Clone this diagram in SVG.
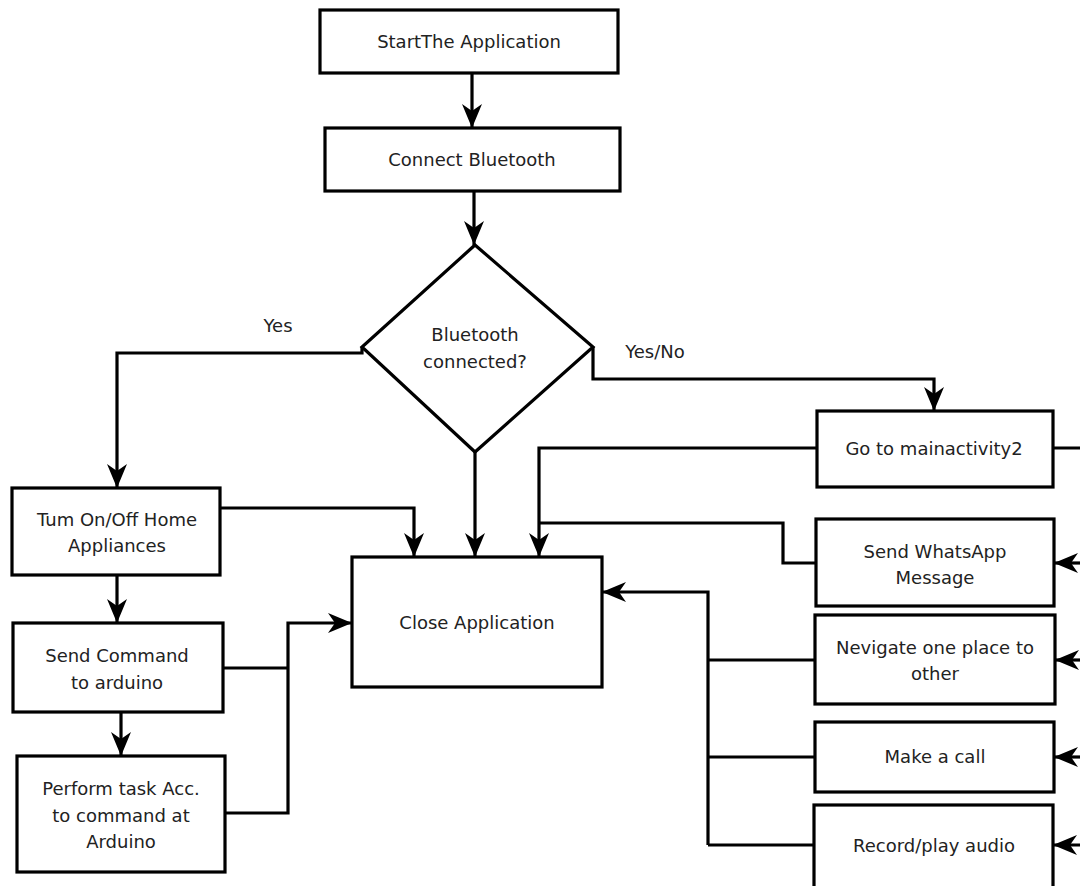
<svg xmlns="http://www.w3.org/2000/svg" width="1080" height="886" viewBox="0 0 1080 886">
<style>
.box{fill:#fff;stroke:#000;stroke-width:3.2}
.t{font-family:"DejaVu Sans",Verdana,sans-serif;font-size:18px;fill:#222;text-anchor:middle}
.c{fill:none;stroke:#000;stroke-width:3.2;stroke-linejoin:miter}
.a{marker-end:url(#ah)}
</style>
<defs>
<marker id="ah" markerUnits="userSpaceOnUse" markerWidth="26" markerHeight="22" viewBox="0 0 26 22" refX="24" refY="11" orient="auto">
<path d="M24,11 L0,1 L7,11 L0,21 Z" fill="#000"/>
</marker>
</defs>
<rect width="1080" height="886" fill="#fff"/>
<g id="connectors">
<path class="c a" d="M472,73 V128"/>
<path class="c a" d="M474,191 V245"/>
<path class="c a" d="M362,347 V353 H117 V488"/>
<path class="c a" d="M593,347 V379 H934 V411"/>
<path class="c a" d="M117,575 V623"/>
<path class="c a" d="M121,712 V756"/>
<path class="c a" d="M220,508 H414 V557"/>
<path class="c a" d="M475,452 V557"/>
<path class="c a" d="M817,448 H539 V557"/>
<path class="c" d="M816,563 H783 V523 H539"/>
<path class="c" d="M223,668 H288"/>
<path class="c a" d="M225,813 H288 V623 H352"/>
<path class="c a" d="M708,845 V592 H602"/>
<path class="c" d="M815,660 H708"/>
<path class="c" d="M815,757 H708"/>
<path class="c" d="M815,845 H708"/>
<path class="c" d="M1053,448 H1086 V845"/>
<path class="c a" d="M1086,563 H1054"/>
<path class="c a" d="M1086,660 H1055"/>
<path class="c a" d="M1086,757 H1054"/>
<path class="c a" d="M1086,845 H1053"/>
</g>
<g id="n-start"><rect class="box" x="320" y="10" width="298" height="63"/><text class="t" x="469" y="48">StartThe Application</text></g>
<g id="n-connect"><rect class="box" x="325" y="128" width="295" height="63"/><text class="t" x="472" y="166">Connect Bluetooth</text></g>
<g id="n-decision"><polygon class="box" points="475,245 593,347 475,452 362,347"/><text class="t" x="475" y="341">Bluetooth</text><text class="t" x="475" y="368">connected?</text></g>
<g id="l-yes"><text class="t" x="278" y="332">Yes</text></g>
<g id="l-yesno"><text class="t" x="655" y="358">Yes/No</text></g>
<g id="n-turn"><rect class="box" x="12" y="488" width="208" height="87"/><text class="t" x="117" y="526">Tum On/Off Home</text><text class="t" x="117" y="552">Appliances</text></g>
<g id="n-send"><rect class="box" x="13" y="623" width="210" height="89"/><text class="t" x="117" y="662">Send Command</text><text class="t" x="117" y="689">to arduino</text></g>
<g id="n-perform"><rect class="box" x="17" y="756" width="208" height="116"/><text class="t" x="121" y="795">Perform task Acc.</text><text class="t" x="121" y="822">to command at</text><text class="t" x="121" y="848">Arduino</text></g>
<g id="n-close"><rect class="box" x="352" y="557" width="250" height="130"/><text class="t" x="477" y="629">Close Application</text></g>
<g id="n-main2"><rect class="box" x="817" y="411" width="236" height="76"/><text class="t" x="934" y="455">Go to mainactivity2</text></g>
<g id="n-whatsapp"><rect class="box" x="816" y="519" width="238" height="87"/><text class="t" x="935" y="558">Send WhatsApp</text><text class="t" x="935" y="584">Message</text></g>
<g id="n-navigate"><rect class="box" x="815" y="615" width="240" height="89"/><text class="t" x="935" y="654">Nevigate one place to</text><text class="t" x="935" y="680">other</text></g>
<g id="n-call"><rect class="box" x="815" y="722" width="239" height="70"/><text class="t" x="935" y="763">Make a call</text></g>
<g id="n-record"><rect class="box" x="814" y="805" width="239" height="90"/><text class="t" x="934" y="852">Record/play audio</text></g>
</svg>
